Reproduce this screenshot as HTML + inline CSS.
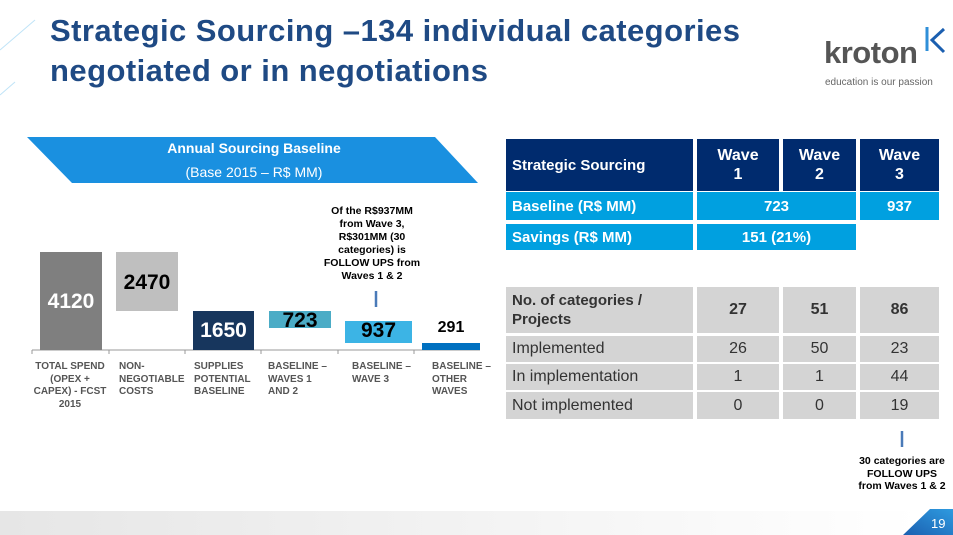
<!DOCTYPE html>
<html><head><meta charset="utf-8"><style>
*{margin:0;padding:0;box-sizing:border-box}
body{width:953px;height:535px;position:relative;background:#fff;font-family:"Liberation Sans",sans-serif;overflow:hidden}
.a{position:absolute}
.t{color:#1f4a84;font-weight:bold;font-size:31px;left:50px;line-height:38px;letter-spacing:0.45px}
.bar{position:absolute}
.v{position:absolute;font-weight:bold;font-size:21px;text-align:center}
.lbl{position:absolute;top:361px;font-size:10px;font-weight:bold;color:#555;line-height:12.5px}
.c{position:absolute;display:flex;align-items:center;justify-content:center;text-align:center}
.n{background:#002b6e;color:#fff;font-weight:bold}
.b{background:#00a0e0;color:#fff;font-weight:bold;font-size:15px}
.g{background:#d4d4d4;color:#333;font-size:16px}
</style></head><body>
<svg class="a" style="left:0;top:0" width="60" height="100"><line x1="0" y1="50" x2="35" y2="20" stroke="#bfe3f7" stroke-width="1"/><line x1="0" y1="95" x2="15" y2="82" stroke="#bfe3f7" stroke-width="1"/></svg>
<div class="a t" style="top:12px">Strategic Sourcing –134 individual categories</div>
<div class="a t" style="top:52px">negotiated or in negotiations</div>
<div class="a" style="left:824px;top:35px;font-size:31px;color:#555;font-weight:bold;letter-spacing:-0.5px">kroton</div>
<svg class="a" style="left:924px;top:25px" width="25" height="30"><path d="M3 2 L3 26" stroke="#2f8fd8" stroke-width="3"/><path d="M20 4 L8 15 L20 27" stroke="#1b5fb0" stroke-width="3" fill="none"/></svg>
<div class="a" style="left:825px;top:77px;font-size:10px;color:#666">education is our passion</div>

<svg class="a" style="left:0;top:0" width="953" height="535">
<polygon points="27,137 435,137 478,183 72,183" fill="#1a90e0"/>
<line x1="32" y1="350" x2="480" y2="350" stroke="#999" stroke-width="1"/>
<g stroke="#999"><line x1="32" y1="350" x2="32" y2="354"/><line x1="109" y1="350" x2="109" y2="354"/><line x1="185" y1="350" x2="185" y2="354"/><line x1="261" y1="350" x2="261" y2="354"/><line x1="338" y1="350" x2="338" y2="354"/><line x1="414" y1="350" x2="414" y2="354"/></g>
<line x1="376" y1="291" x2="376" y2="307" stroke="#4a7ab8" stroke-width="2.5"/>
<line x1="902" y1="431" x2="902" y2="447" stroke="#4a7ab8" stroke-width="2.5"/>
<defs><linearGradient id="gg" x1="0" x2="1"><stop offset="0" stop-color="#e6e6e6"/><stop offset="1" stop-color="#fff"/></linearGradient>
<linearGradient id="bb" x1="0" x2="1" y1="1" y2="0"><stop offset="0" stop-color="#1b5fb0"/><stop offset="1" stop-color="#2e9be0"/></linearGradient></defs>
<rect x="0" y="511" width="920" height="24" fill="url(#gg)"/>
<polygon points="903,535 930,509 953,509 953,535" fill="url(#bb)"/>
</svg>
<div class="a" style="left:0;width:508px;top:140px;text-align:center;color:#fff;font-weight:bold;font-size:14px">Annual Sourcing Baseline</div>
<div class="a" style="left:0;width:508px;top:164px;text-align:center;color:#fff;font-size:14px">(Base 2015 – R$ MM)</div>

<div class="bar" style="left:40px;top:252px;width:62px;height:98px;background:#7f7f7f"></div>
<div class="bar" style="left:116px;top:252px;width:62px;height:59px;background:#bfbfbf"></div>
<div class="bar" style="left:193px;top:311px;width:61px;height:39px;background:#17365d"></div>
<div class="bar" style="left:269px;top:311px;width:62px;height:17px;background:#4bacc6"></div>
<div class="bar" style="left:345px;top:321px;width:67px;height:22px;background:#3cb4e5"></div>
<div class="bar" style="left:422px;top:343px;width:58px;height:7px;background:#0070c0"></div>
<div class="v" style="left:40px;width:62px;top:290px;color:#fff">4120</div>
<div class="v" style="left:116px;width:62px;top:271px;color:#000">2470</div>
<div class="v" style="left:193px;width:61px;top:319px;color:#fff">1650</div>
<div class="v" style="left:269px;width:62px;top:309px;color:#000">723</div>
<div class="v" style="left:345px;width:67px;top:319px;color:#000">937</div>
<div class="v" style="left:422px;width:58px;top:319px;color:#000;font-size:16px">291</div>
<div class="a" style="left:312px;width:120px;top:205px;text-align:center;font-size:10.5px;font-weight:bold;line-height:13px">Of the R$937MM<br>from Wave 3,<br>R$301MM (30<br>categories) is<br>FOLLOW UPS from<br>Waves 1 &amp; 2</div>
<div class="lbl" style="left:30px;width:80px;text-align:center">TOTAL SPEND (OPEX + CAPEX) - FCST 2015</div>
<div class="lbl" style="left:119px">NON-<br>NEGOTIABLE<br>COSTS</div>
<div class="lbl" style="left:194px">SUPPLIES<br>POTENTIAL<br>BASELINE</div>
<div class="lbl" style="left:268px">BASELINE –<br>WAVES 1<br>AND 2</div>
<div class="lbl" style="left:352px">BASELINE –<br>WAVE 3</div>
<div class="lbl" style="left:432px">BASELINE –<br>OTHER<br>WAVES</div>

<div class="c n" style="left:506px;top:139px;width:187px;height:52px;justify-content:flex-start;padding-left:6px;font-size:15px">Strategic Sourcing</div>
<div class="c n" style="left:697px;top:139px;width:82px;height:52px;font-size:16px;line-height:19px">Wave<br>1</div>
<div class="c n" style="left:783px;top:139px;width:73px;height:52px;font-size:16px;line-height:19px">Wave<br>2</div>
<div class="c n" style="left:860px;top:139px;width:79px;height:52px;font-size:16px;line-height:19px">Wave<br>3</div>
<div class="c b" style="left:506px;top:192px;width:187px;height:28px;justify-content:flex-start;padding-left:6px">Baseline (R$ MM)</div>
<div class="c b" style="left:697px;top:192px;width:159px;height:28px">723</div>
<div class="c b" style="left:860px;top:192px;width:79px;height:28px">937</div>
<div class="c b" style="left:506px;top:224px;width:187px;height:26px;justify-content:flex-start;padding-left:6px">Savings (R$ MM)</div>
<div class="c b" style="left:697px;top:224px;width:159px;height:26px">151 (21%)</div>

<div class="c g" style="left:506px;top:287px;width:187px;height:46px;justify-content:flex-start;padding-left:6px;text-align:left;font-weight:bold;font-size:15px;line-height:19px">No. of categories /<br>Projects</div>
<div class="c g" style="left:697px;top:287px;width:82px;height:46px;font-weight:bold">27</div>
<div class="c g" style="left:783px;top:287px;width:73px;height:46px;font-weight:bold">51</div>
<div class="c g" style="left:860px;top:287px;width:79px;height:46px;font-weight:bold">86</div>
<div class="c g" style="left:506px;top:336px;width:187px;height:26px;justify-content:flex-start;padding-left:6px">Implemented</div>
<div class="c g" style="left:697px;top:336px;width:82px;height:26px">26</div>
<div class="c g" style="left:783px;top:336px;width:73px;height:26px">50</div>
<div class="c g" style="left:860px;top:336px;width:79px;height:26px">23</div>
<div class="c g" style="left:506px;top:364px;width:187px;height:26px;justify-content:flex-start;padding-left:6px">In implementation</div>
<div class="c g" style="left:697px;top:364px;width:82px;height:26px">1</div>
<div class="c g" style="left:783px;top:364px;width:73px;height:26px">1</div>
<div class="c g" style="left:860px;top:364px;width:79px;height:26px">44</div>
<div class="c g" style="left:506px;top:392px;width:187px;height:27px;justify-content:flex-start;padding-left:6px">Not implemented</div>
<div class="c g" style="left:697px;top:392px;width:82px;height:27px">0</div>
<div class="c g" style="left:783px;top:392px;width:73px;height:27px">0</div>
<div class="c g" style="left:860px;top:392px;width:79px;height:27px">19</div>

<div class="a" style="left:842px;width:120px;top:455px;text-align:center;font-size:10.5px;font-weight:bold;line-height:12.5px">30 categories are<br>FOLLOW UPS<br>from Waves 1 &amp; 2</div>
<div class="a" style="left:931px;top:516px;color:#fff;font-size:13px">19</div>
</body></html>
